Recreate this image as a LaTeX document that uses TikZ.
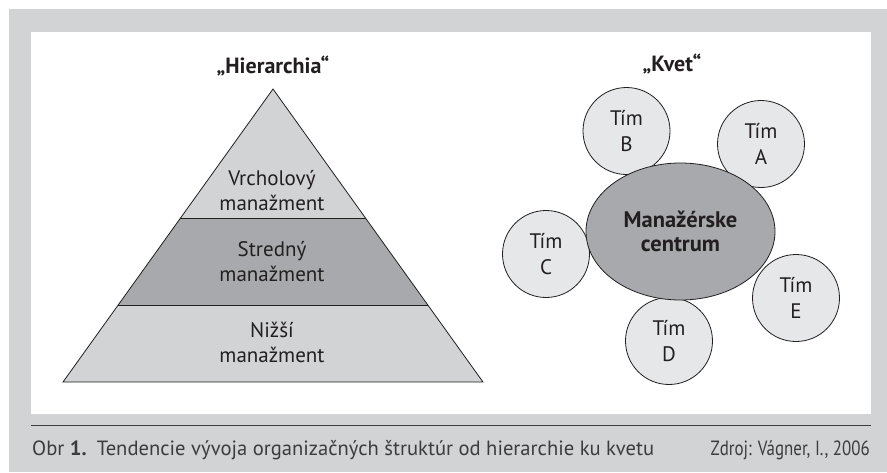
\documentclass[tikz,border=0pt]{standalone}
\usepackage{fontspec}
\usepackage{graphicx}
\setmainfont{PT Sans}
\usetikzlibrary{shapes.geometric,calc}

\definecolor{framegray}{HTML}{D1D3D4}
\definecolor{bandlight}{HTML}{D1D3D4}
\definecolor{banddark}{HTML}{A7A9AC}
\definecolor{teamfill}{HTML}{E6E7E8}
\definecolor{hubfill}{HTML}{A7A9AC}
\definecolor{ink}{HTML}{231F20}
\definecolor{captionink}{HTML}{3C3C3E}

\begin{document}
\begin{tikzpicture}[x=1pt,y=-1pt,
  outline/.style={draw=ink,line width=0.8pt,line join=miter},
  heading/.style={anchor=base,font=\bfseries\fontsize{22}{24}\selectfont,text=ink},
  level/.style={align=center,font=\fontsize{21}{25}\selectfont,text=ink,inner sep=0pt},
  team/.style={circle,draw=ink,fill=teamfill,line width=0.8pt,minimum size=87pt,
    inner sep=0pt,align=center,font=\fontsize{21}{25.5}\selectfont,text=ink},
  hub/.style={ellipse,draw=ink,fill=hubfill,line width=0.8pt,minimum width=189pt,
    minimum height=137pt,inner sep=0pt,align=center,
    font=\bfseries\fontsize{22.5}{23.5}\selectfont,text=ink},
  caption/.style={font=\fontsize{20.6}{22}\selectfont,text=captionink,inner sep=0pt}]

% page, grey frame and white panel
\useasboundingbox (0,0) rectangle (887,472);
\fill[white] (0,0) rectangle (887,472);
\fill[framegray] (9,9) rectangle (887,472);
\fill[white] (31,32) rectangle (871,414);
\draw[captionink,line width=1pt] (31,425) -- (871,425);

% ---------- hierarchy pyramid ----------
\coordinate (apex) at (273,89);
\coordinate (bl) at (63,382);
\coordinate (br) at (483,382);
\coordinate (l1) at ($(apex)!0.442!(bl)$);
\coordinate (r1) at ($(apex)!0.442!(br)$);
\coordinate (l2) at ($(apex)!0.739!(bl)$);
\coordinate (r2) at ($(apex)!0.739!(br)$);

\fill[bandlight] (apex) -- (l1) -- (r1) -- cycle;
\fill[banddark] (l1) -- (l2) -- (r2) -- (r1) -- cycle;
\fill[bandlight] (l2) -- (bl) -- (br) -- (r2) -- cycle;
\draw[outline] (apex) -- (bl) -- (br) -- cycle;
\draw[outline] (l1) -- (r1);
\draw[outline] (l2) -- (r2);

\node[heading] (hier) at (273,73) {„Hierarchia“};
\node[level] (top) at (272,190.5) {Vrcholový\\manažment};
\node[level] (mid) at (272,262) {Stredný\\manažment};
\node[level] (low) at (272,342) {Nižší\\manažment};

% ---------- flower of teams ----------
\node[heading] (kvet) at (672,71.5) {„Kvet“};
\node[team] (tA) at (761,144) {Tím\\A};
\node[team] (tB) at (626.5,131) {Tím\\B};
\node[team] (tC) at (546,254) {Tím\\C};
\node[team] (tD) at (669,341) {Tím\\D};
\node[team] (tE) at (796,298) {Tím\\E};
\node[hub] (hub) at (680.5,231.5) {Manažérske\\centrum};

% ---------- caption ----------
\node[caption,anchor=base west] (cap) at (32,455)
  {Obr \textbf{1.}\enspace Tendencie vývoja organizačných štruktúr od hierarchie ku kvetu};
\node[caption,anchor=base east] (src) at (870,455)
  {\scalebox{0.82}[1]{Zdroj: Vágner, I., 2006}};
\end{tikzpicture}
\end{document}
